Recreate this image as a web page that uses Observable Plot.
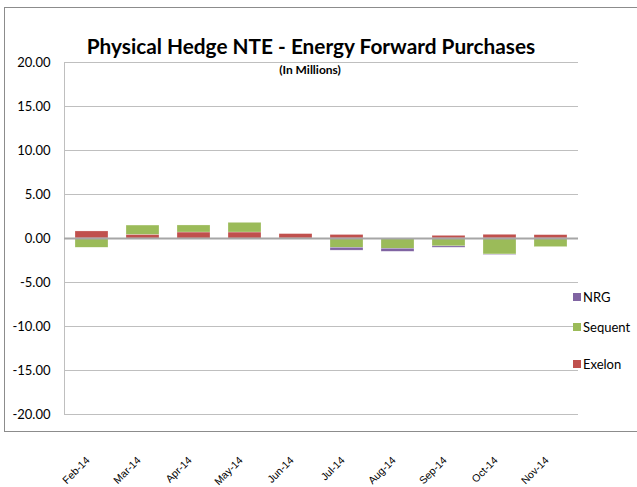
<!DOCTYPE html>
<html>
<head>
<meta charset="utf-8">
<script src="https://cdn.jsdelivr.net/npm/d3@7"></script>
<script src="https://cdn.jsdelivr.net/npm/@observablehq/plot@0.6"></script>
<style>
  html, body { margin: 0; padding: 0; background: #fff; }
  #wrap { position: relative; width: 637px; height: 487px; overflow: hidden; font-family: Lato, "Open Sans", sans-serif; }
  #border { position: absolute; left: 4px; top: 7px; width: 700px; height: 425px; border: 1px solid #8c8c8c; box-sizing: border-box; pointer-events: none; }
  #title { position: absolute; left: 0; width: 622px; top: 33px; text-align: center; font-weight: bold; font-size: 20.8px; color: #000; }
  #subtitle { position: absolute; left: 0; width: 620px; top: 62px; text-align: center; font-weight: bold; font-size: 12px; color: #000; }
  #legend { position: absolute; left: 573px; top: 0; }
  .li { position: absolute; left: 0; white-space: nowrap; font-size: 13px; color: #000; display: flex; align-items: center; }
  .sw { width: 8px; height: 8px; margin-right: 2px; display: inline-block; }
  #chart { position: absolute; left: 0; top: 0; }
</style>
</head>
<body>
<div id="wrap">
  <div id="chart"></div>
  <div id="border"></div>
  <div id="title">Physical Hedge NTE - Energy Forward Purchases</div>
  <div id="subtitle">(In Millions)</div>
  <div id="legend"></div>
</div>
<script>
const months = ["Feb-14","Mar-14","Apr-14","May-14","Jun-14","Jul-14","Aug-14","Sep-14","Oct-14","Nov-14"];
const seriesNames = ["Exelon","Sequent","NRG"];
const exelon  = [0.80, 0.42, 0.68, 0.68, 0.50, 0.40, 0.00, 0.30, 0.42, 0.38];
const sequent = [-1.05, 1.05, 0.80, 1.10, 0.00, -1.06, -1.17, -0.90, -1.82, -0.98];
const nrg     = [0.00, 0.00, 0.00, 0.00, -0.05, -0.32, -0.34, -0.15, -0.05, 0.00];
const seriesColors = ["#C0504D", "#9BBB59", "#8064A2"];
const yTicks = [-20, -15, -10, -5, 0, 5, 10, 15, 20];
const legendOrder = ["NRG", "Sequent", "Exelon"];

const valuesBySeries = {Exelon: exelon, Sequent: sequent, NRG: nrg};
const data = [];
months.forEach((m, i) => {
  seriesNames.forEach(s => data.push({month: m, series: s, value: valuesBySeries[s][i]}));
});

const chart = Plot.plot({
  width: 637,
  height: 487,
  marginLeft: 64,
  marginRight: 59,
  marginTop: 62,
  marginBottom: 73,
  style: {fontFamily: "Lato, 'Open Sans', sans-serif", background: "transparent"},
  x: {domain: months, paddingInner: 0.36, paddingOuter: 0.18},
  y: {domain: [-20, 20]},
  color: {domain: seriesNames, range: seriesColors},
  marks: [
    Plot.gridY(yTicks, {stroke: "#bfbfbf", strokeOpacity: 1, strokeWidth: 1}),
    Plot.frame({anchor: "left", stroke: "#bfbfbf", strokeWidth: 1}),
    Plot.barY(data, Plot.stackY({x: "month", y: "value", z: "series", fill: "series", order: seriesNames, stroke: "#ffffff", strokeOpacity: 0.5, strokeWidth: 0.5})),
    Plot.ruleY([0], {stroke: "#a6a6a6", strokeWidth: 2}),
    Plot.axisY(yTicks, {tickSize: 0, tickPadding: 14, tickFormat: d => d.toFixed(2), fontSize: 13, fill: "#000", label: null}),
    Plot.axisX({tickSize: 0, tickRotate: -45, tickPadding: 44, fontSize: 10.5, fontFamily: "'Liberation Sans', Arial, sans-serif", label: null, dx: -4, fill: "#000"})
  ]
});
document.getElementById("chart").appendChild(chart);

const legendY = {NRG: 289, Sequent: 319, Exelon: 356};
const leg = document.getElementById("legend");
legendOrder.forEach(s => {
  const d = document.createElement("div");
  d.className = "li";
  d.style.top = legendY[s] + "px";
  const sw = document.createElement("span");
  sw.className = "sw";
  sw.style.background = seriesColors[seriesNames.indexOf(s)];
  d.appendChild(sw);
  d.appendChild(document.createTextNode(s));
  leg.appendChild(d);
});
</script>
</body>
</html>
